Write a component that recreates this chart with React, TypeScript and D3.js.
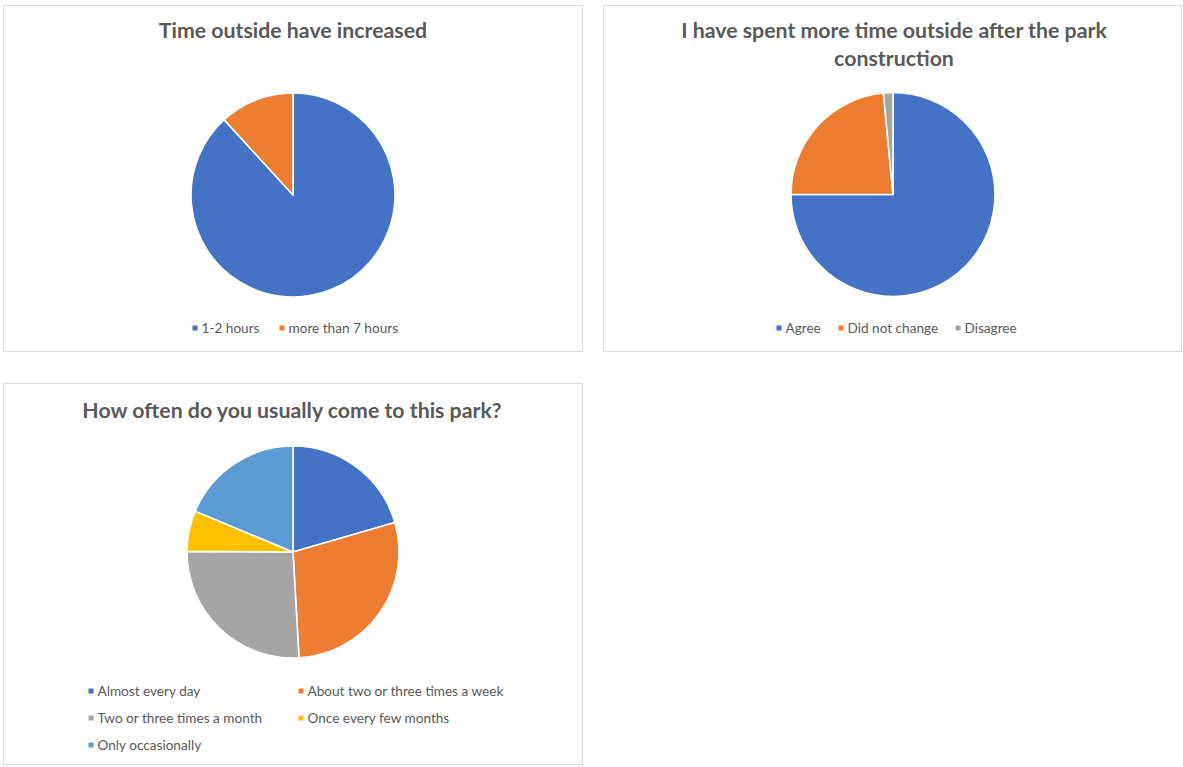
import React from "react";
import * as d3 from "d3";

const c1Labels = ["1-2 hours", "more than 7 hours"];
const c1Values = [88.2, 11.8];
const c2Labels = ["Agree", "Did not change", "Disagree"];
const c2Values = [75, 23.5, 1.5];
const c3Labels = [
  "Almost every day",
  "About two or three times a week",
  "Two or three times a month",
  "Once every few months",
  "Only occasionally",
];
const c3Values = [20.5, 28.6, 26.0, 6.2, 18.7];

const palette = ["#4472C4", "#ED7D31", "#A5A5A5", "#FFC000", "#5B9BD5"];
const TEXT = "#595959";
const FONT = "Lato, 'Open Sans', sans-serif";
const TITLE_SIZE = 21.3;
const LEGEND_SIZE = 13.6;

function Pie({ values, cx, cy, r }: { values: number[]; cx: number; cy: number; r: number }) {
  const arcs = d3.pie<number>().sort(null).value((d) => d)(values);
  const arc = d3.arc<d3.PieArcDatum<number>>().innerRadius(0).outerRadius(r);
  const color = d3.scaleOrdinal<number, string>().domain(d3.range(values.length)).range(palette);
  return (
    <g transform={`translate(${cx},${cy})`}>
      {arcs.map((a, i) => (
        <path key={i} d={arc(a) || ""} fill={color(i)} stroke="#fff" strokeWidth={1.6} strokeLinejoin="round" />
      ))}
    </g>
  );
}

function LegendItem({ x, y, color, label }: { x: number; y: number; color: string; label: string }) {
  return (
    <g>
      <rect x={x - 2.5} y={y - 2.5} width={5} height={5} fill={color} />
      <text x={x + 6.5} y={y} dy="0.35em" fontSize={LEGEND_SIZE} fill={TEXT} fontFamily={FONT}>
        {label}
      </text>
    </g>
  );
}

function Title({ x, y, children }: { x: number; y: number; children: React.ReactNode }) {
  return (
    <text x={x} y={y} dy="0.35em" textAnchor="middle" fontSize={TITLE_SIZE} fontWeight={700} fill={TEXT} fontFamily={FONT}>
      {children}
    </text>
  );
}

export default function App() {
  return (
    <svg width={1183} height={767} style={{ position: "absolute", left: 0, top: 0, background: "#fff" }}>
      <rect x={3.5} y={5.5} width={579} height={346} fill="#fff" stroke="#d9d9d9" />
      <rect x={603.5} y={5.5} width={578} height={346} fill="#fff" stroke="#d9d9d9" />
      <rect x={3.5} y={383.5} width={579} height={381} fill="#fff" stroke="#d9d9d9" />

      <Title x={293} y={31}>Time outside have increased</Title>
      <Pie values={c1Values} cx={293} cy={195} r={102} />
      <LegendItem x={195} y={328} color={palette[0]} label={c1Labels[0]} />
      <LegendItem x={282} y={328} color={palette[1]} label={c1Labels[1]} />

      <Title x={894} y={31}>I have spent more time outside after the park</Title>
      <Title x={894} y={59}>construction</Title>
      <Pie values={c2Values} cx={893} cy={194.5} r={102} />
      <LegendItem x={779} y={328} color={palette[0]} label={c2Labels[0]} />
      <LegendItem x={841} y={328} color={palette[1]} label={c2Labels[1]} />
      <LegendItem x={958} y={328} color={palette[2]} label={c2Labels[2]} />

      <Title x={292} y={411}>How often do you usually come to this park?</Title>
      <Pie values={c3Values} cx={293} cy={552} r={106} />
      <LegendItem x={91} y={691} color={palette[0]} label={c3Labels[0]} />
      <LegendItem x={301} y={691} color={palette[1]} label={c3Labels[1]} />
      <LegendItem x={91} y={718} color={palette[2]} label={c3Labels[2]} />
      <LegendItem x={301} y={718} color={palette[3]} label={c3Labels[3]} />
      <LegendItem x={91} y={745} color={palette[4]} label={c3Labels[4]} />
    </svg>
  );
}
